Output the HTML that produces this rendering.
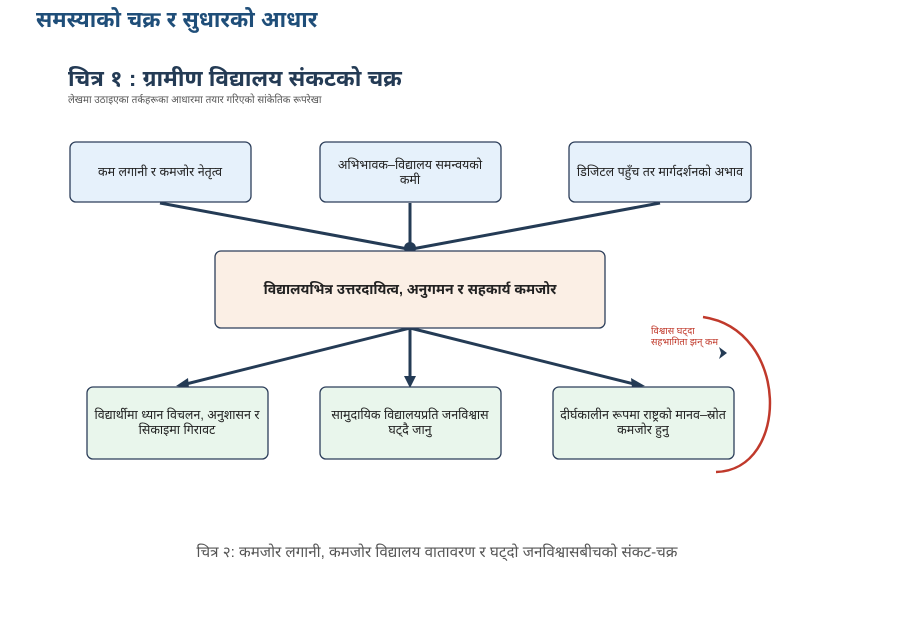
<!DOCTYPE html>
<html><head><meta charset="utf-8"><style>
body{margin:0;background:#fff;width:921px;height:616px;overflow:hidden;font-family:"Liberation Sans","Noto Sans Devanagari","Lohit Devanagari",sans-serif}
</style></head><body>
<svg width="921" height="616" xmlns="http://www.w3.org/2000/svg" font-family="Liberation Sans, Noto Sans Devanagari, sans-serif">
<text x="36" y="27" font-size="22" font-weight="bold" fill="#1f4e79">समस्याको चक्र र सुधारको आधार</text>
<text x="68" y="86" font-size="22.5" font-weight="bold" fill="#243b55">चित्र १ : ग्रामीण विद्यालय संकटको चक्र</text>
<text x="68" y="103" font-size="10" fill="#555">लेखमा उठाइएका तर्कहरूका आधारमा तयार गरिएको सांकेतिक रूपरेखा</text>
<g stroke="#243b55" stroke-width="3" fill="none">
<line x1="160" y1="203" x2="408" y2="249"/>
<line x1="410" y1="203" x2="410" y2="249"/>
<line x1="660" y1="203" x2="412" y2="249"/>
<line x1="410" y1="328" x2="182" y2="385"/>
<line x1="410" y1="328" x2="410" y2="382"/>
<line x1="410" y1="328" x2="638" y2="385"/>
</g>
<circle cx="410" cy="248" r="6" fill="#243b55"/>
<g fill="#243b55">
<polygon points="176,386 188,378 189,388"/>
<polygon points="410,388 404,376 416,376"/>
<polygon points="645,386 631,378 632,388"/>
<polygon points="727,353 719,347 721,353 719,359"/>
</g>
<g stroke="#2c3e5a" stroke-width="1.3">
<rect x="70" y="142" width="181" height="60" rx="6" fill="#e6f1fb"/>
<rect x="320" y="142" width="181" height="60" rx="6" fill="#e6f1fb"/>
<rect x="569" y="142" width="182" height="60" rx="6" fill="#e6f1fb"/>
<rect x="215" y="251" width="390" height="77" rx="6" fill="#fbefe5"/>
<rect x="87" y="387" width="181" height="72" rx="6" fill="#e9f6ec"/>
<rect x="320" y="387" width="181" height="72" rx="6" fill="#e9f6ec"/>
<rect x="553" y="387" width="181" height="72" rx="6" fill="#e9f6ec"/>
</g>
<g font-size="12.5" fill="#222" text-anchor="middle">
<text x="160" y="176">कम लगानी र कमजोर नेतृत्व</text>
<text x="410" y="169">अभिभावक–विद्यालय समन्वयको</text>
<text x="410" y="184">कमी</text>
<text x="660" y="176">डिजिटल पहुँच तर मार्गदर्शनको अभाव</text>
<text x="410" y="294" font-size="14" font-weight="bold">विद्यालयभित्र उत्तरदायित्व, अनुगमन र सहकार्य कमजोर</text>
<text x="177" y="419">विद्यार्थीमा ध्यान विचलन, अनुशासन र</text>
<text x="177" y="434">सिकाइमा गिरावट</text>
<text x="410" y="419">सामुदायिक विद्यालयप्रति जनविश्वास</text>
<text x="410" y="434">घट्दै जानु</text>
<text x="643" y="419">दीर्घकालीन रूपमा राष्ट्रको मानव–स्रोत</text>
<text x="643" y="434">कमजोर हुनु</text>
</g>
<path d="M703,317 C790,330 790,470 716,472" stroke="#c0392b" stroke-width="2.5" fill="none"/>
<text x="651" y="334" font-size="9.5" fill="#c0392b">विश्वास घट्दा</text>
<text x="651" y="345" font-size="9.5" fill="#c0392b">सहभागिता झन् कम</text>
<text x="437" y="557" font-size="15.2" fill="#555" text-anchor="middle">चित्र २: कमजोर लगानी, कमजोर विद्यालय वातावरण र घट्दो जनविश्वासबीचको संकट-चक्र</text>
</svg>
</body></html>
